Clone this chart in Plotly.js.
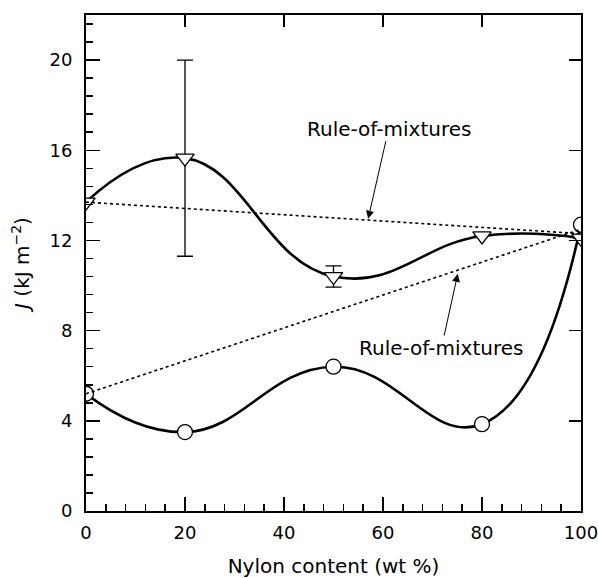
<!DOCTYPE html>
<html>
<head>
<meta charset="utf-8">
<script src="https://cdn.plot.ly/plotly-3.0.1.min.js"></script>
<style>
  html, body { margin: 0; padding: 0; background: #fff; }
  #chart { width: 598px; height: 578px; }
</style>
</head>
<body>
<div id="chart"></div>
<script>
// Fracture toughness J of the blends against nylon content
const nylonContent = [0, 20, 50, 80, 100];

// Triangle series (with scatter at 20 and 50 wt %)
const jTriangle = [13.7, 15.65, 10.4, 12.2, 12.1];
const jTriangleErr = [null, 4.35, 0.47, null, null];

// Circle series
const jCircle = [5.2, 3.5, 6.4, 3.85, 12.7];

// Rule-of-mixtures predictions between the two pure components
const romX = [0, 100];
const romUpper = [13.7, 12.3];
const romLower = [5.2, 12.5];

const labelText = 'Rule-of-mixtures';
const xTickVals = [0, 20, 40, 60, 80, 100];
const yTickVals = [0, 4, 8, 12, 16, 20];

const FONT = '"DejaVu Sans", Verdana, sans-serif';

const markerLine = { color: '#000', width: 1.3 };

const traces = [
  {
    x: romX, y: romUpper, xaxis: 'x2', yaxis: 'y2',
    mode: 'lines', line: { color: '#000', width: 1.6, dash: 'dot' },
    hoverinfo: 'skip', showlegend: false
  },
  {
    x: romX, y: romLower, xaxis: 'x2', yaxis: 'y2',
    mode: 'lines', line: { color: '#000', width: 1.6, dash: 'dot' },
    hoverinfo: 'skip', showlegend: false
  },
  {
    x: nylonContent, y: jCircle,
    mode: 'lines+markers',
    line: { color: '#000', width: 2.6, shape: 'spline', smoothing: 1.3 },
    marker: { symbol: 'circle', size: 15, color: '#fff', line: markerLine },
    showlegend: false
  },
  {
    x: nylonContent, y: jTriangle,
    mode: 'lines+markers',
    line: { color: '#000', width: 2.6, shape: 'spline', smoothing: 1.3 },
    marker: { symbol: 'triangle-down', size: 16, color: '#fff', line: markerLine },
    error_y: { type: 'data', array: jTriangleErr, visible: true,
               color: '#000', thickness: 1.3, width: 8 },
    showlegend: false
  }
];

const tickFont = { family: FONT, size: 18, color: '#000' };
const titleFont = { family: FONT, size: 20, color: '#000' };
const noteFont = { family: FONT, size: 20, color: '#000' };

const layout = {
  width: 598, height: 578,
  margin: { l: 86, r: 17, t: 15, b: 67 },
  paper_bgcolor: '#fff', plot_bgcolor: '#fff',
  showlegend: false,
  font: { family: FONT, color: '#000' },
  xaxis: {
    range: [0, 100], tickvals: xTickVals, ticktext: xTickVals.map(String),
    ticks: 'inside', ticklen: 14, tickwidth: 1.5, tickcolor: '#000',
    minor: { dtick: 4, tick0: 0, ticks: 'inside', ticklen: 7, tickwidth: 1.5, tickcolor: '#000', showgrid: false },
    showline: true, linewidth: 2, linecolor: '#000',
    showgrid: false, zeroline: false, tickfont: tickFont, ticklabelstandoff: 4,
    ticklabeloverflow: 'allow',
    title: { text: 'Nylon content (wt %)', font: titleFont, standoff: 17 }
  },
  yaxis: {
    range: [0, 22], tickvals: yTickVals, ticktext: yTickVals.map(String),
    ticks: 'inside', ticklen: 14, tickwidth: 1.5, tickcolor: '#000',
    minor: { dtick: 0.8, tick0: 0, ticks: 'inside', ticklen: 7, tickwidth: 1.5, tickcolor: '#000', showgrid: false },
    showline: true, linewidth: 2, linecolor: '#000',
    showgrid: false, zeroline: false, tickfont: tickFont, ticklabelstandoff: 8,
    ticklabeloverflow: 'allow',
    title: { text: '<i>J</i> (kJ m<sup>−2</sup>)', font: titleFont, standoff: 14 }
  },
  // mirrored frame: major ticks only on the top and right edges
  xaxis2: {
    overlaying: 'x', side: 'top', anchor: 'y2', range: [0, 100], tickvals: [20, 40, 60, 80],
    ticks: 'inside', ticklen: 12, tickwidth: 1.5, tickcolor: '#000',
    showline: true, linewidth: 2, linecolor: '#000',
    showticklabels: false, showgrid: false, zeroline: false
  },
  yaxis2: {
    overlaying: 'y', side: 'right', anchor: 'x2', range: [0, 22], tickvals: [4, 8, 12, 16, 20],
    ticks: 'inside', ticklen: 12, tickwidth: 1.5, tickcolor: '#000',
    showline: true, linewidth: 2, linecolor: '#000',
    showticklabels: false, showgrid: false, zeroline: false
  },
  // labels for the two dotted lines, each with an arrow onto its line
  annotations: [
    { x: 57.0, y: 12.96, ax: 61.15, ay: 16.96, xref: 'x', yref: 'y', axref: 'x', ayref: 'y',
      text: labelText, font: noteFont, borderpad: 0,
      showarrow: true, arrowhead: 2, arrowsize: 1.6, arrowwidth: 1, arrowcolor: '#000', standoff: 0 },
    { x: 75.1, y: 10.52, ax: 71.8, ay: 7.23, xref: 'x', yref: 'y', axref: 'x', ayref: 'y',
      text: labelText, font: noteFont, borderpad: 0,
      showarrow: true, arrowhead: 2, arrowsize: 1.6, arrowwidth: 1, arrowcolor: '#000', standoff: 0 }
  ]
};

Plotly.newPlot('chart', traces, layout, { staticPlot: true, displayModeBar: false });
</script>
</body>
</html>
